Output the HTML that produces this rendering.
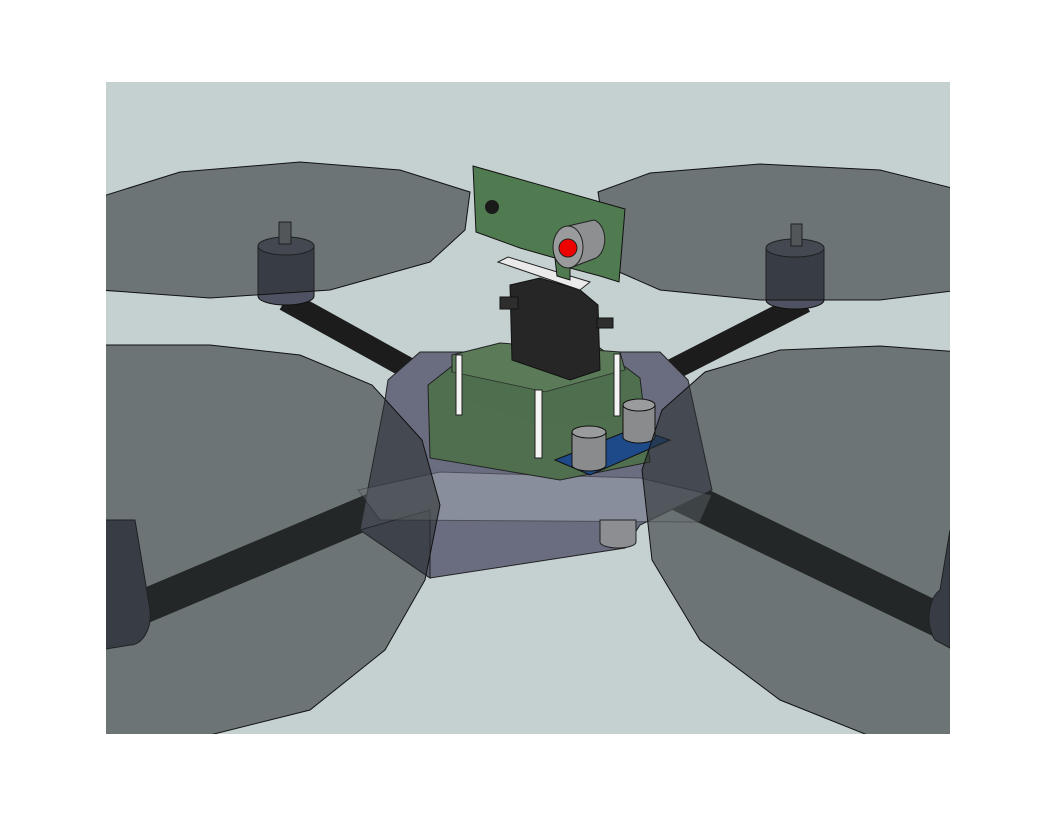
<!DOCTYPE html>
<html><head><meta charset="utf-8"><style>html,body{margin:0;padding:0;background:#fff}svg{display:block}</style></head>
<body>
<svg width="1056" height="816" viewBox="0 0 1056 816" xmlns="http://www.w3.org/2000/svg">
<defs><clipPath id="c"><rect x="106" y="82" width="844" height="652"/></clipPath></defs>
<rect x="106" y="82" width="844" height="652" fill="#c5d1d1"/>
<g clip-path="url(#c)">
<g stroke-linecap="butt">
<line x1="285" y1="300" x2="415" y2="372" stroke-width="22" stroke="#1c1c1c"/>
<line x1="805" y1="302" x2="668" y2="372" stroke-width="22" stroke="#1c1c1c"/>
<line x1="100" y1="625" x2="420" y2="490" stroke-width="34" stroke="#1e1e1e"/>
<line x1="955" y1="628" x2="660" y2="485" stroke-width="34" stroke="#1e1e1e"/>
</g>
<g stroke="#111" stroke-width="1">
<path d="M258 246 L258 296 A28 9 0 0 0 314 296 L314 246 Z" fill="#4e5262"/>
<ellipse cx="286" cy="246" rx="28" ry="9" fill="#6a6e7e"/>
<rect x="279" y="222" width="12" height="22" fill="#8a8c90"/>
<path d="M766 248 L766 300 A29 9 0 0 0 824 300 L824 248 Z" fill="#4e5262"/>
<ellipse cx="795" cy="248" rx="29" ry="9" fill="#6a6e7e"/>
<rect x="791" y="224" width="11" height="22" fill="#8a8c90"/>
<path d="M100 520 L100 650 L130 645 A20 30 0 0 0 150 610 L135 520 Z" fill="#4e5262"/>
<path d="M950 530 L940 590 A18 30 0 0 0 935 640 L950 648 Z" fill="#4e5262"/>
</g>
<g fill="rgba(40,46,48,0.57)" stroke="#111" stroke-width="1">
<polygon points="100,197 180,172 300,162 400,170 470,192 465,230 430,262 330,290 210,298 100,290"/>
<polygon points="598,192 650,173 760,164 880,170 960,190 960,290 880,300 760,300 660,290 610,268"/>
</g>
<g stroke="#222" stroke-width="1">
<polygon points="388,380 420,352 660,352 688,380 712,490 640,525 625,548 430,578 360,530 385,400" fill="#6a6d80"/>
<polygon points="430,510 430,578 360,530" fill="#5a5d70"/>
<polygon points="358,490 440,472 640,478 712,495 700,522 380,520" fill="#b8c0c8" opacity="0.4"/>
<polygon points="428,385 470,352 600,348 640,378 650,462 560,480 430,458" fill="#4f6f4f"/>
</g>
<path d="M600 520 L600 542 A18 6 0 0 0 636 542 L636 520 Z" fill="#8c8e92" stroke="#222"/>
<polygon points="452,355 500,343 620,352 625,370 545,392 452,372" fill="#5a7a58" stroke="#222"/>
<polygon points="452,372 545,392 625,370 620,418 540,425 455,395" fill="#4f6f4f" opacity="0.7"/>
<g fill="#f4f4f4" stroke="#222">
<rect x="456" y="355" width="6" height="60"/>
<rect x="614" y="354" width="6" height="62"/>
<rect x="535" y="390" width="7" height="68"/>
</g>
<polygon points="555,460 635,428 670,440 590,475" fill="#1e4a8a" stroke="#111"/>
<g stroke="#111" fill="#8a8b8d">
<path d="M572 432 L572 465 A17 6 0 0 0 606 465 L606 432 Z"/><ellipse cx="589" cy="432" rx="17" ry="6" fill="#9a9b9d"/>
<path d="M623 405 L623 437 A16 6 0 0 0 655 437 L655 405 Z"/><ellipse cx="639" cy="405" rx="16" ry="6" fill="#9a9b9d"/>
</g>
<g stroke="#111">
<polygon points="510,285 540,278 580,290 598,305 600,370 570,380 512,360" fill="#262626"/>
<rect x="500" y="297" width="18" height="12" fill="#2e2e2e"/>
<rect x="597" y="318" width="16" height="10" fill="#2e2e2e"/>
</g>
<polygon points="498,262 508,257 590,282 580,290" fill="#eaeaea" stroke="#222"/>
<polygon points="473,166 625,209 619,282 600,276 570,268 570,280 557,276 555,258 520,248 476,232" fill="#507a50" stroke="#111"/>
<circle cx="492" cy="207" r="7" fill="#1a1a1a"/>
<g stroke="#222">
<path d="M568 226 L594 220 A14 20 0 0 1 596 258 L570 268 Z" fill="#8e8f90"/>
<ellipse cx="568" cy="247" rx="15" ry="21" fill="#9a9b9c"/>
<circle cx="568" cy="248" r="9" fill="#ee0000"/>
</g>
<g fill="rgba(40,46,48,0.57)" stroke="#111" stroke-width="1">
<polygon points="100,345 210,345 300,355 372,385 422,440 440,505 425,580 385,650 310,710 190,740 100,740"/>
<polygon points="960,352 880,346 780,350 705,372 662,410 642,470 652,560 700,640 780,700 880,740 960,740"/>
</g>
</g>
</svg>
</body></html>
